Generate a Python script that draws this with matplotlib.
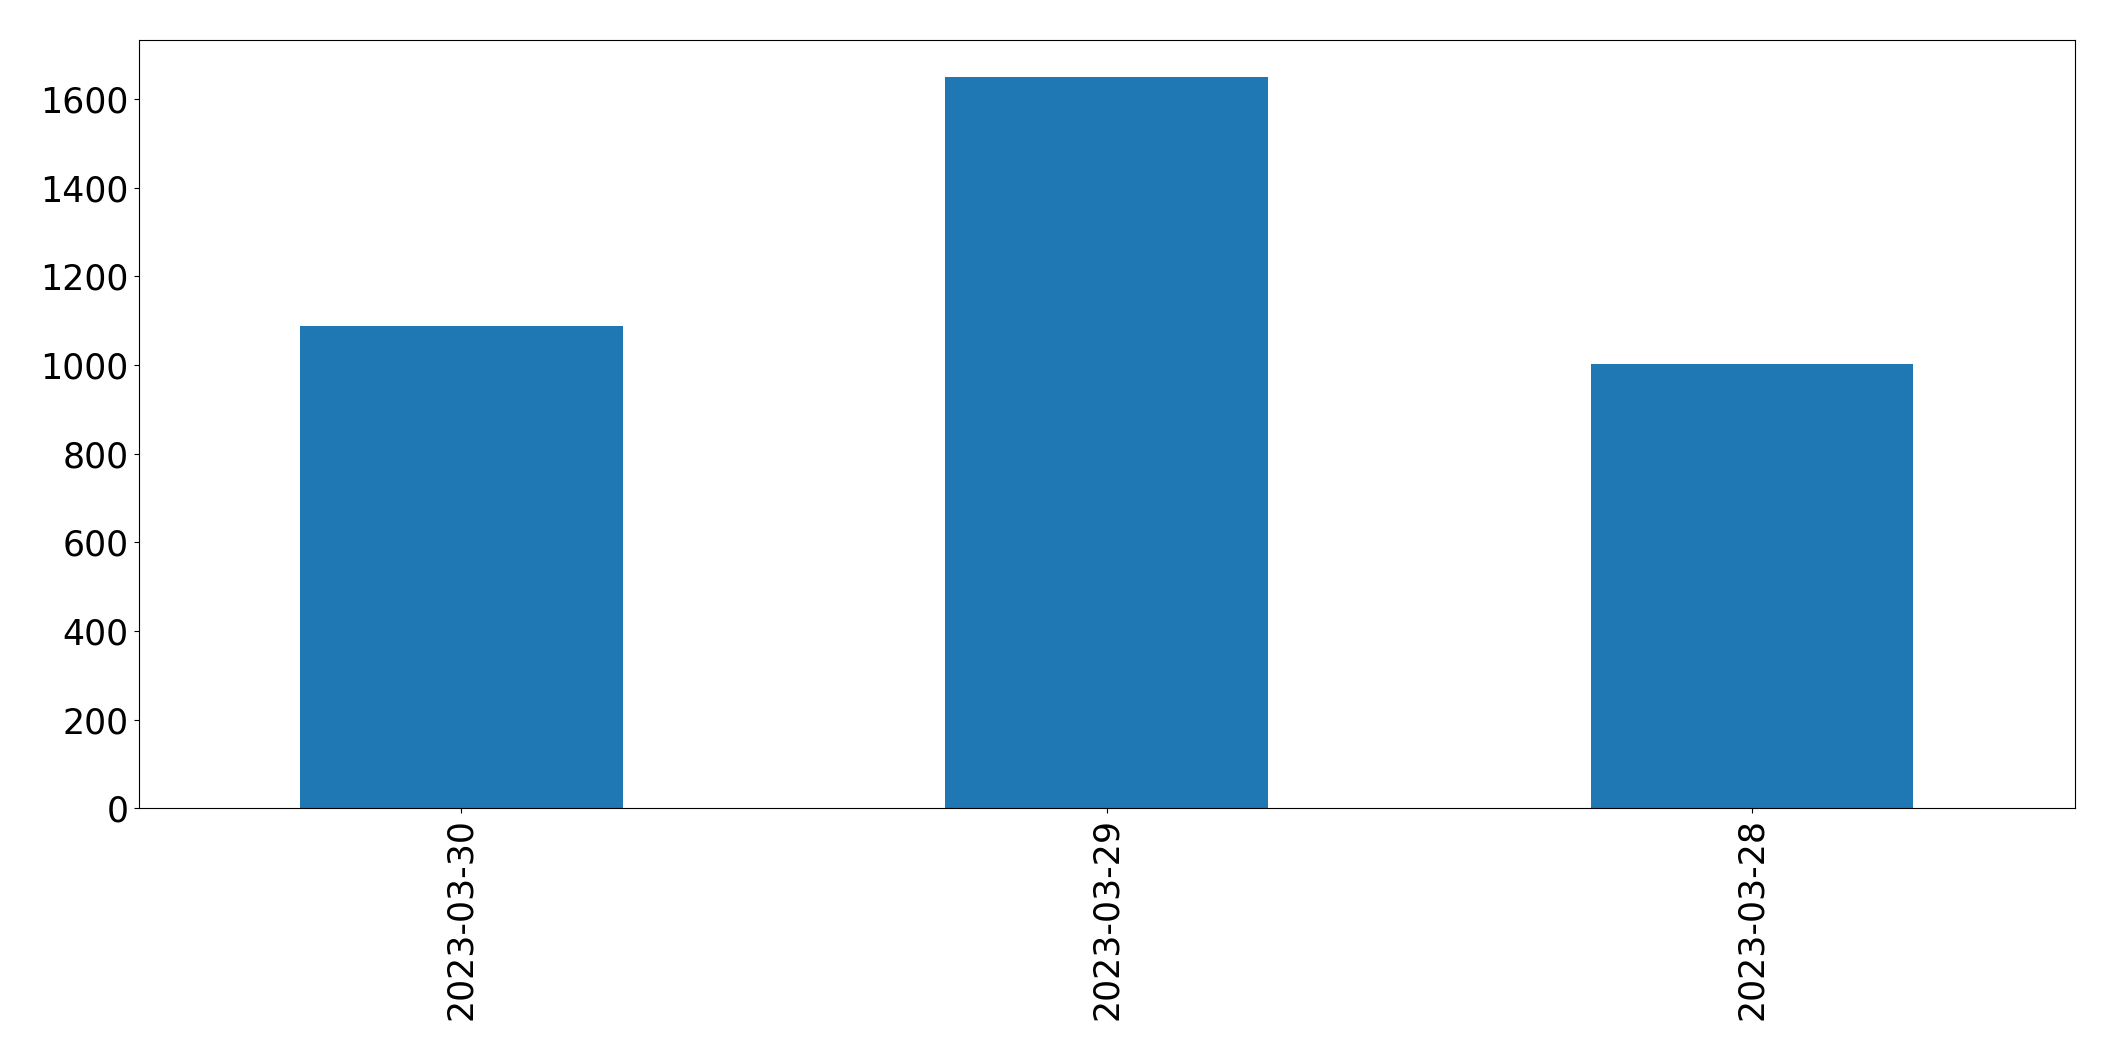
import matplotlib
matplotlib.use("Agg")
import matplotlib.pyplot as plt

categories = ["2023-03-30", "2023-03-29", "2023-03-28"]
values = [1089, 1650, 1003]

fig = plt.figure(figsize=(21.15, 10.61), dpi=100)
ax = fig.add_axes([0.0655, 0.238, 0.9155, 0.724])
x = list(range(len(categories)))
ax.bar(x, values, width=0.5, color="#1f77b4")
ax.set_xlim(-0.5, len(categories) - 0.5)
ax.set_xticks(x)
ax.set_xticklabels(categories, rotation=90)
ax.tick_params(axis="both", labelsize=25)
fig.savefig("out.png", dpi=100)
